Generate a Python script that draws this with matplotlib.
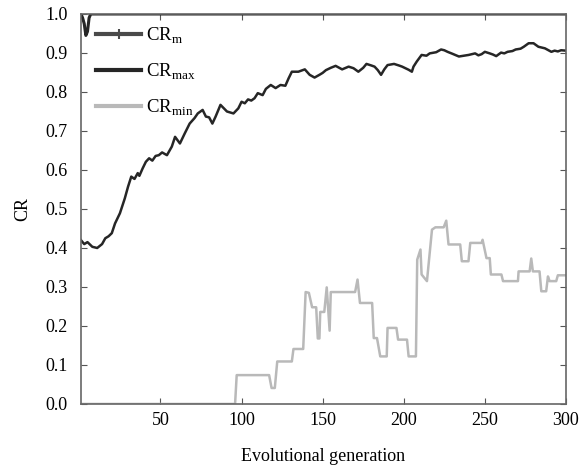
import numpy as np
import matplotlib
matplotlib.use("Agg")
import matplotlib.pyplot as plt
from matplotlib.lines import Line2D

plt.rcParams['font.family'] = ['Liberation Serif', 'DejaVu Serif']
plt.rcParams['mathtext.fontset'] = 'custom'
plt.rcParams['mathtext.rm'] = 'Liberation Serif'

# CR_m (mostly sits on the upper bound)
m_gen = [1, 2, 3, 4, 5, 6, 7, 300]
m_cr = [1.0, 0.99, 0.975, 0.945, 0.955, 0.99, 1.0, 1.0]

# CR_max
max_gen = [1, 3, 5, 8, 11, 14, 16, 18, 20, 22, 25, 28, 30, 32, 34, 36, 37, 39, 41, 43,
           45, 47, 49, 51, 54, 57, 59, 62, 65, 68, 71, 73, 76, 78, 80, 82, 84, 87, 91,
           95, 98, 100, 102, 104, 106, 108, 110, 113, 115, 118, 121, 124, 127, 129, 131,
           135, 139, 142, 145, 148, 150, 152, 155, 158, 162, 166, 169, 172, 175, 177,
           180, 182, 184, 186, 188, 190, 194, 197, 199, 201, 203, 205, 206, 208, 211,
           214, 216, 220, 223, 225, 227, 230, 234, 237, 240, 244, 246, 248, 250, 253,
           255, 257, 260, 262, 264, 267, 269, 272, 274, 277, 280, 283, 287, 291, 293,
           295, 297, 300]
max_cr = [0.42, 0.41, 0.415, 0.403, 0.40, 0.41, 0.425, 0.43, 0.438, 0.463, 0.489, 0.527,
          0.557, 0.583, 0.577, 0.592, 0.585, 0.604, 0.621, 0.63, 0.624, 0.636, 0.638,
          0.645, 0.638, 0.66, 0.685, 0.668, 0.694, 0.719, 0.733, 0.745, 0.754, 0.737,
          0.735, 0.719, 0.737, 0.767, 0.75, 0.745, 0.758, 0.775, 0.771, 0.781, 0.778,
          0.784, 0.797, 0.792, 0.808, 0.818, 0.81, 0.818, 0.816, 0.835, 0.852, 0.852,
          0.858, 0.844, 0.837, 0.844, 0.849, 0.856, 0.862, 0.867, 0.858, 0.865, 0.861,
          0.852, 0.862, 0.872, 0.868, 0.865, 0.856, 0.844, 0.858, 0.869, 0.872, 0.868,
          0.865, 0.861, 0.857, 0.852, 0.865, 0.878, 0.895, 0.893, 0.899, 0.902, 0.909,
          0.907, 0.903, 0.898, 0.891, 0.893, 0.895, 0.899, 0.894, 0.897, 0.903, 0.899,
          0.896, 0.892, 0.901, 0.899, 0.903, 0.905, 0.909, 0.911, 0.916, 0.925, 0.925,
          0.916, 0.912, 0.903, 0.906, 0.904, 0.907, 0.906]

# CR_min, plateau corners
min_gen = [1, 96, 97, 117, 118.5, 120.5, 122, 131, 132, 138, 139.5, 141.5, 143.5, 146,
           147, 148, 148.5, 151, 152.5, 154.3, 155, 170, 171.5, 173, 180.5, 181.5,
           183.5, 185.5, 189.5, 190, 195.5, 196.5, 202, 203, 207.5, 208.3, 210.3, 211,
           214.3, 217.4, 219.5, 224.6, 226.2, 227.6, 234.8, 235.8, 239.9, 241, 248,
           248.6, 251, 253, 253.7, 260.2, 261.2, 270.4, 270.8, 277.6, 278.6, 279.6,
           283.7, 284.8, 287.8, 288.9, 289.9, 294, 295, 300]
min_cr = [0.0, 0.0, 0.074, 0.074, 0.041, 0.041, 0.109, 0.109, 0.141, 0.141, 0.287,
          0.285, 0.248, 0.248, 0.168, 0.168, 0.236, 0.236, 0.299, 0.188, 0.287, 0.287,
          0.319, 0.259, 0.259, 0.169, 0.169, 0.122, 0.122, 0.195, 0.195, 0.165, 0.165,
          0.122, 0.122, 0.37, 0.396, 0.332, 0.315, 0.447, 0.453, 0.453, 0.47, 0.409,
          0.409, 0.366, 0.366, 0.413, 0.413, 0.421, 0.374, 0.374, 0.332, 0.332, 0.315,
          0.315, 0.34, 0.34, 0.373, 0.34, 0.34, 0.289, 0.289, 0.327, 0.315, 0.315,
          0.33, 0.33]

x_ticks = [50, 100, 150, 200, 250, 300]
y_ticks = np.round(np.arange(0, 1.01, 0.1), 1)

fig = plt.figure(figsize=(5.86, 4.68), dpi=100)
ax = fig.add_axes([0.1382, 0.1368, 0.8276, 0.8333])

c_m = '#4a4a4a'
c_max = '#262626'
c_min = '#b9b9b9'

ax.plot(min_gen, min_cr, color=c_min, lw=1.8)
ax.plot(max_gen, max_cr, color=c_max, lw=1.8)
ax.plot(m_gen, m_cr, color=c_max, lw=2.2)

ax.set_xlim(1, 300)
ax.set_ylim(0, 1.0)
ax.set_xticks(x_ticks)
ax.set_yticks(y_ticks)
ax.set_yticklabels([f'{v:.1f}' for v in y_ticks])
ax.tick_params(direction='in', length=4, width=0.8, color='#555555',
               top=True, right=True, labelsize=13)
ax.tick_params(axis='x', pad=5.5)
ax.tick_params(axis='y', pad=9.5)
for s in ax.spines.values():
    s.set_color('#666666')
    s.set_linewidth(1.2)

ax.set_xlabel('Evolutional generation', fontsize=13, labelpad=14)
ax.set_ylabel('CR', fontsize=13, labelpad=10)

handles = [
    Line2D([], [], color=c_m, lw=3, marker='+', markersize=7, mew=1.5),
    Line2D([], [], color=c_max, lw=3),
    Line2D([], [], color=c_min, lw=3),
]
labels = [r'CR$_\mathrm{m}$', r'CR$_\mathrm{max}$', r'CR$_\mathrm{min}$']
ax.legend(handles, labels, loc='upper left', bbox_to_anchor=(0.0165, 0.99),
          frameon=False, fontsize=13.5, handlelength=2.4, handletextpad=0.25,
          labelspacing=0.85, borderaxespad=0.0)

fig.savefig('out.png', dpi=100)
